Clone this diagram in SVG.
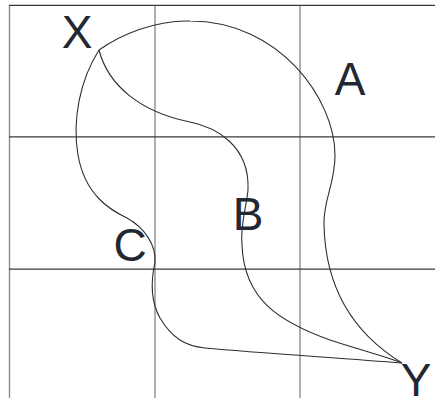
<svg xmlns="http://www.w3.org/2000/svg" width="435" height="398" viewBox="0 0 435 398">
<style>
.v{stroke:#8a8d91;stroke-width:1.4;fill:none}
.h{stroke:#343a40;stroke-width:1.2;fill:none}
.c{stroke:#2b2f36;stroke-width:1.1;fill:none}
.t{font-family:"Liberation Sans",Arial,sans-serif;font-size:46px;fill:#222831;text-anchor:middle}
</style>
<rect width="435" height="398" fill="#ffffff"/>
<g id="grid">
<line class="v" x1="9.5" y1="5" x2="9.5" y2="398"/>
<line class="v" x1="155" y1="5" x2="155" y2="398"/>
<line class="v" x1="300" y1="5" x2="300" y2="398"/>
<line class="h" x1="9" y1="5.3" x2="435" y2="5.3"/>
<line class="h" x1="9" y1="136.8" x2="435" y2="136.8"/>
<line class="h" x1="9" y1="269.2" x2="435" y2="269.2"/>
</g>
<g id="connectors">
<path id="pathA" class="c" d="M99,50 C120,35 155,20 190,21 C280,21 335,100 335,155 C335,185 323,200 324,225 C325,270 340,325 402,363"/>
<path id="pathB" class="c" d="M99,50 C108,85 140,112 190,122 C215,127 250,145 248,190 C246,210 240,225 242,245 C244,300 280,322 330,340 C360,350 385,356 402,363"/>
<path id="pathC" class="c" d="M99,50 C80,80 72,120 78,155 C85,195 110,210 127,218 C145,228 156,245 155,262 C151,280 150,300 160,318 C172,338 185,346 205,348 C260,353 340,358 402,363"/>
</g>
<g id="X"><text class="t" x="77" y="48">X</text></g>
<g id="A"><text class="t" x="350" y="95">A</text></g>
<g id="B"><text class="t" x="248" y="230">B</text></g>
<g id="C"><text class="t" x="130" y="261">C</text></g>
<g id="Y"><text class="t" x="416" y="396">Y</text></g>
</svg>
